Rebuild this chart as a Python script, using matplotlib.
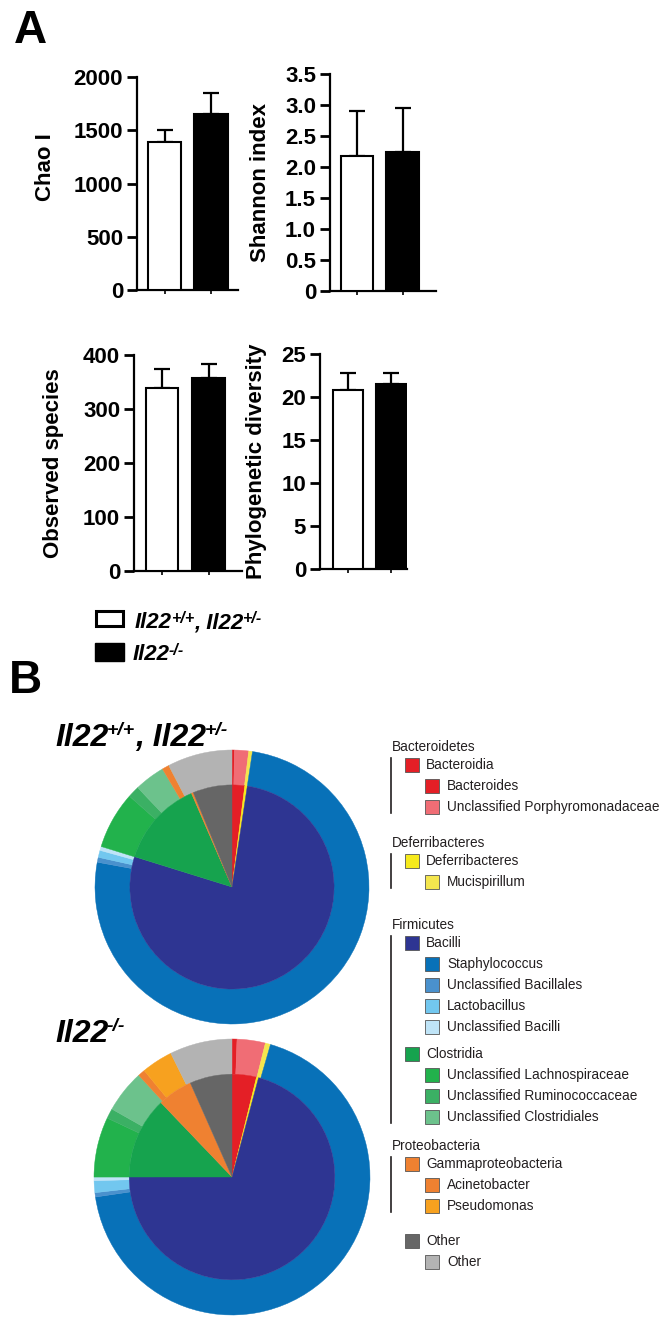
import matplotlib
matplotlib.use("Agg")
import matplotlib.pyplot as plt
from matplotlib.patches import Rectangle

plt.rcParams["font.family"] = ["Liberation Sans", "DejaVu Sans"]

W, H = 666, 1323

# Panel A: alpha diversity (mean + SEM) for the two genotype groups
chao_mean = [1390, 1650]
chao_sem = [112, 200]
shannon_mean = [2.17, 2.25]
shannon_sem = [0.73, 0.70]
observed_mean = [339, 357]
observed_sem = [35, 26]
pd_mean = [20.8, 21.5]
pd_sem = [2.0, 1.3]

chao_ticks = [0, 500, 1000, 1500, 2000]
shannon_ticks = [0, 0.5, 1.0, 1.5, 2.0, 2.5, 3.0, 3.5]
shannon_labels = ["0", "0.5", "1.0", "1.5", "2.0", "2.5", "3.0", "3.5"]
observed_ticks = [0, 100, 200, 300, 400]
pd_ticks = [0, 5, 10, 15, 20, 25]

# Panel B: taxonomy (inner ring = class, outer ring = genus)
phyla = ["Bacteroidetes", "Deferribacteres", "Firmicutes", "Proteobacteria", None]
classes = ["Bacteroidia", "Deferribacteres", "Bacilli", "Clostridia",
           "Gammaproteobacteria", "Other"]
class_phylum = [0, 1, 2, 2, 3, 4]
genera = ["Bacteroides", "Unclassified Porphyromonadaceae", "Mucispirillum",
          "Staphylococcus", "Unclassified Bacillales", "Lactobacillus",
          "Unclassified Bacilli", "Unclassified Lachnospiraceae",
          "Unclassified Ruminococcaceae", "Unclassified Clostridiales",
          "Acinetobacter", "Pseudomonas", "Other"]
genus_class = [0, 0, 1, 2, 2, 2, 2, 3, 3, 3, 4, 4, 5]

wt_class = [2.0, 0.4, 77.4, 13.7, 0.3, 6.2]
wt_genus = [0.28, 1.67, 0.44, 75.5, 0.58, 0.83, 0.47, 6.75, 1.39, 3.61, 0.83, 0.0, 7.64]
ko_class = [3.83, 0.33, 70.83, 12.86, 5.5, 6.64]
ko_genus = [0.58, 3.31, 0.61, 68.19, 0.5, 1.39, 0.42, 7.03, 1.17, 5.0, 0.83, 3.67, 7.31]

class_colors = ["#e41f26", "#f6ea1c", "#2e3592", "#16a34e", "#ef8131", "#666666"]
genus_colors = ["#e41f26", "#f06d75", "#f4e64e", "#0871b8", "#4a91cd", "#72c7ef",
                "#bfe4f7", "#22b24c", "#3bb064", "#6cc28c", "#ef8131", "#f7a11f",
                "#b3b3b3"]


def px_box(l, t, r, b):
    return [l / W, 1 - b / H, (r - l) / W, (b - t) / H]


def bar_panel(fig, box, bars, mean, sem, ticks, labels, ylabel, label_px, label_y=0.5):
    l, t, r, b = box
    ax = fig.add_axes(px_box(l, t, r, b))
    c0 = (bars[0] + bars[1]) / 2
    c1 = (bars[2] + bars[3]) / 2
    d = c1 - c0
    width = ((bars[1] - bars[0]) + (bars[3] - bars[2])) / 2 / d
    ax.errorbar([0, 1], mean, yerr=[[0, 0], sem], fmt="none", ecolor="black",
                elinewidth=1.6, capsize=6, capthick=1.6, zorder=2)
    ax.bar([0, 1], mean, width=width, color=["white", "black"], edgecolor="black",
           linewidth=1.5, zorder=3)
    ax.set_xlim(-(c0 - l) / d, 1 + (r - c1) / d)
    ax.set_ylim(ticks[0], ticks[-1])
    ax.set_yticks(ticks, labels)
    ax.set_xticks([0, 1])
    ax.tick_params(axis="x", length=3, width=1.2, labelbottom=False)
    ax.tick_params(axis="y", length=7, width=2, pad=3, labelsize=16)
    for lab in ax.get_yticklabels():
        lab.set_fontweight("bold")
    for s in ["top", "right"]:
        ax.spines[s].set_visible(False)
    for s in ["left", "bottom"]:
        ax.spines[s].set_linewidth(1.6)
    ax.patch.set_alpha(0)
    ax.set_ylabel(ylabel, fontsize=16, fontweight="bold")
    ax.yaxis.set_label_coords((label_px - l) / (r - l), label_y)
    return ax


def gene_label(ax, x, y, parts, size, sup_size):
    # parts alternate between normal text and superscript
    style = dict(fontweight="bold", fontstyle="italic", ha="left")
    first = ax.text(x, y, parts[0], fontsize=size, va="baseline", **style)
    prev = first
    for i, part in enumerate(parts[1:], start=1):
        if i % 2 == 1:
            prev = ax.annotate(part, xy=(1, 1), xycoords=(prev, first),
                               xytext=(-1, 0.5), textcoords="offset points",
                               fontsize=sup_size, va="top", **style)
        else:
            prev = ax.annotate(part, xy=(1, 0), xycoords=(prev, first),
                               fontsize=size, va="bottom", **style)


def square(ax, x, y, color):
    ax.add_patch(Rectangle((x, y - 7), 14, 14, facecolor=color,
                           edgecolor="#555555", linewidth=0.6))


def tree_legend(ax):
    fs = 9.8
    y = 747
    gaps = [36, 43, 29, 35]
    for p, phylum in enumerate(phyla):
        top = y + 11
        if phylum is not None:
            ax.text(392, y, phylum, fontsize=fs, va="center", color="#231f20")
            y += 18
        first = True
        last = y
        for c, cname in enumerate(classes):
            if class_phylum[c] != p:
                continue
            if not first:
                y += 6
            first = False
            square(ax, 405, y, class_colors[c])
            ax.text(426, y, cname, fontsize=fs, va="center", color="#231f20")
            last = y
            y += 21
            for g, gname in enumerate(genera):
                if genus_class[g] != c:
                    continue
                square(ax, 425, y, genus_colors[g])
                ax.text(447, y, gname, fontsize=fs, va="center", color="#231f20")
                last = y
                y += 21
        if phylum is not None:
            ax.plot([391, 391], [top, last + 6], color="#231f20", linewidth=1.2)
        if p < len(gaps):
            y = last + gaps[p]


def pie_panel(fig, cx, cy, r, class_vals, genus_vals):
    ax = fig.add_axes(px_box(cx - r, cy - r, cx + r, cy + r))
    inner = 0.745
    outer_w, _ = ax.pie(genus_vals, radius=1, colors=genus_colors, startangle=90,
                        counterclock=False, wedgeprops=dict(width=1 - inner, linewidth=0.3))
    inner_w, _ = ax.pie(class_vals, radius=inner, colors=class_colors, startangle=90,
                        counterclock=False, wedgeprops=dict(linewidth=0.3))
    # edge in the wedge's own colour to hide seams
    for w in outer_w + inner_w:
        w.set_edgecolor(w.get_facecolor())
    ax.set_xlim(-1, 1)
    ax.set_ylim(-1, 1)
    ax.set_aspect("equal")
    ax.axis("off")
    return ax


def main():
    fig = plt.figure(figsize=(W / 100, H / 100), dpi=100)
    bg = fig.add_axes([0, 0, 1, 1])
    bg.set_xlim(0, W)
    bg.set_ylim(H, 0)
    bg.axis("off")

    bar_panel(fig, (137, 77, 238, 290), (148, 181, 194, 228), chao_mean, chao_sem,
              chao_ticks, [str(t) for t in chao_ticks], "Chao I", 56, 0.577)
    bar_panel(fig, (330, 74, 436, 291), (341, 373, 386, 419), shannon_mean, shannon_sem,
              shannon_ticks, shannon_labels, "Shannon index", 271)
    bar_panel(fig, (134, 355, 242, 571), (146, 178, 192, 225), observed_mean, observed_sem,
              observed_ticks, [str(t) for t in observed_ticks], "Observed species", 64)
    bar_panel(fig, (320, 354, 407, 569), (332, 364, 377, 405), pd_mean, pd_sem,
              pd_ticks, [str(t) for t in pd_ticks], "Phylogenetic diversity", 267)

    bg.text(14, 43, "A", fontsize=33, fontweight="bold", va="baseline")
    bg.text(9, 693, "B", fontsize=33, fontweight="bold", va="baseline")

    # group legend of panel A
    bg.add_patch(Rectangle((96, 611), 27, 15, facecolor="white", edgecolor="black", linewidth=2.2))
    bg.add_patch(Rectangle((95, 643), 29, 18, facecolor="black", edgecolor="black", linewidth=1))
    gene_label(bg, 135, 628, ["Il22", "+/+", ", Il22", "+/-"], 16, 11.5)
    gene_label(bg, 133, 660, ["Il22", "-/-"], 16, 11.5)

    # pies
    pie_panel(fig, 232, 887, 137, wt_class, wt_genus)
    pie_panel(fig, 232, 1177, 138, ko_class, ko_genus)
    gene_label(bg, 55, 746, ["Il22", "+/+", ", Il22", "+/-"], 23, 14)
    gene_label(bg, 55, 1042, ["Il22", "-/-"], 23, 14)

    tree_legend(bg)

    fig.savefig("out.png", dpi=100)


if __name__ == "__main__":
    main()
